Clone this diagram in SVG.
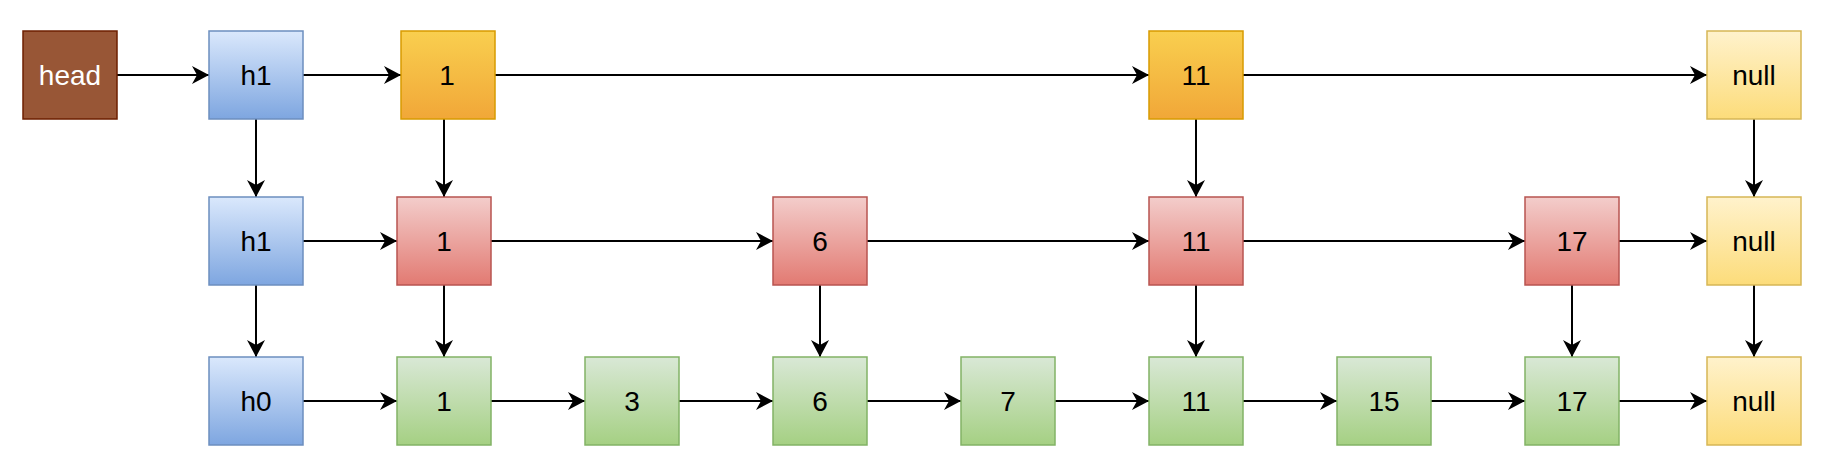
<svg xmlns="http://www.w3.org/2000/svg" width="1840" height="472" viewBox="0 0 1840 472">
<style>
rect{stroke-width:1.5}
.t{font-family:"Liberation Sans",Arial,sans-serif;font-size:28px;text-anchor:middle;dominant-baseline:central;fill:#000}
.head rect{fill:#985636;stroke:#6d1f00}
.head text{fill:#fff}
.blue rect{fill:url(#gBlue);stroke:#6c8ebf}
.orange rect{fill:url(#gOrange);stroke:#d79b00}
.red rect{fill:url(#gRed);stroke:#b85450}
.green rect{fill:url(#gGreen);stroke:#82b366}
.yellow rect{fill:url(#gYellow);stroke:#d6b656}
#edges line{stroke:#000;stroke-width:2;marker-end:url(#arr)}
</style>
<defs>
<linearGradient id="gBlue" x1="0" y1="0" x2="0" y2="1"><stop offset="0" stop-color="#dae8fc"/><stop offset="1" stop-color="#7ea6e0"/></linearGradient>
<linearGradient id="gOrange" x1="0" y1="0" x2="0" y2="1"><stop offset="0" stop-color="#f9cf4f"/><stop offset="1" stop-color="#f1a738"/></linearGradient>
<linearGradient id="gRed" x1="0" y1="0" x2="0" y2="1"><stop offset="0" stop-color="#f3cdcb"/><stop offset="1" stop-color="#e27a72"/></linearGradient>
<linearGradient id="gGreen" x1="0" y1="0" x2="0" y2="1"><stop offset="0" stop-color="#d9e8d6"/><stop offset="1" stop-color="#a5d083"/></linearGradient>
<linearGradient id="gYellow" x1="0" y1="0" x2="0" y2="1"><stop offset="0" stop-color="#fff2cc"/><stop offset="1" stop-color="#fcdc7a"/></linearGradient>
<marker id="arr" markerUnits="userSpaceOnUse" viewBox="0 0 17 18" refX="17" refY="9" markerWidth="17" markerHeight="18" orient="auto">
<path d="M17,9 L0,0 L5,9 L0,18 Z" fill="#000"/>
</marker>
</defs>

<g id="edges">
<line x1="117" y1="75" x2="209" y2="75"/>
<line x1="303" y1="75" x2="401" y2="75"/>
<line x1="495" y1="75" x2="1149" y2="75"/>
<line x1="1243" y1="75" x2="1707" y2="75"/>
<line x1="256" y1="119" x2="256" y2="197"/>
<line x1="444" y1="119" x2="444" y2="197"/>
<line x1="1196" y1="119" x2="1196" y2="197"/>
<line x1="1754" y1="119" x2="1754" y2="197"/>
<line x1="303" y1="241" x2="397" y2="241"/>
<line x1="491" y1="241" x2="773" y2="241"/>
<line x1="867" y1="241" x2="1149" y2="241"/>
<line x1="1243" y1="241" x2="1525" y2="241"/>
<line x1="1619" y1="241" x2="1707" y2="241"/>
<line x1="256" y1="285" x2="256" y2="357"/>
<line x1="444" y1="285" x2="444" y2="357"/>
<line x1="820" y1="285" x2="820" y2="357"/>
<line x1="1196" y1="285" x2="1196" y2="357"/>
<line x1="1572" y1="285" x2="1572" y2="357"/>
<line x1="1754" y1="285" x2="1754" y2="357"/>
<line x1="303" y1="401" x2="397" y2="401"/>
<line x1="491" y1="401" x2="585" y2="401"/>
<line x1="679" y1="401" x2="773" y2="401"/>
<line x1="867" y1="401" x2="961" y2="401"/>
<line x1="1055" y1="401" x2="1149" y2="401"/>
<line x1="1243" y1="401" x2="1337" y2="401"/>
<line x1="1431" y1="401" x2="1525" y2="401"/>
<line x1="1619" y1="401" x2="1707" y2="401"/>
</g>

<g id="n-head" class="head"><rect x="23" y="31" width="94" height="88"/><text class="t" x="70" y="75">head</text></g>
<g id="n-h1-top" class="blue"><rect x="209" y="31" width="94" height="88"/><text class="t" x="256" y="75">h1</text></g>
<g id="n-l2-1" class="orange"><rect x="401" y="31" width="94" height="88"/><text class="t" x="447" y="75">1</text></g>
<g id="n-l2-11" class="orange"><rect x="1149" y="31" width="94" height="88"/><text class="t" x="1196" y="75">11</text></g>
<g id="n-l2-null" class="yellow"><rect x="1707" y="31" width="94" height="88"/><text class="t" x="1754" y="75">null</text></g>

<g id="n-h1" class="blue"><rect x="209" y="197" width="94" height="88"/><text class="t" x="256" y="241">h1</text></g>
<g id="n-l1-1" class="red"><rect x="397" y="197" width="94" height="88"/><text class="t" x="444" y="241">1</text></g>
<g id="n-l1-6" class="red"><rect x="773" y="197" width="94" height="88"/><text class="t" x="820" y="241">6</text></g>
<g id="n-l1-11" class="red"><rect x="1149" y="197" width="94" height="88"/><text class="t" x="1196" y="241">11</text></g>
<g id="n-l1-17" class="red"><rect x="1525" y="197" width="94" height="88"/><text class="t" x="1572" y="241">17</text></g>
<g id="n-l1-null" class="yellow"><rect x="1707" y="197" width="94" height="88"/><text class="t" x="1754" y="241">null</text></g>

<g id="n-h0" class="blue"><rect x="209" y="357" width="94" height="88"/><text class="t" x="256" y="401">h0</text></g>
<g id="n-l0-1" class="green"><rect x="397" y="357" width="94" height="88"/><text class="t" x="444" y="401">1</text></g>
<g id="n-l0-3" class="green"><rect x="585" y="357" width="94" height="88"/><text class="t" x="632" y="401">3</text></g>
<g id="n-l0-6" class="green"><rect x="773" y="357" width="94" height="88"/><text class="t" x="820" y="401">6</text></g>
<g id="n-l0-7" class="green"><rect x="961" y="357" width="94" height="88"/><text class="t" x="1008" y="401">7</text></g>
<g id="n-l0-11" class="green"><rect x="1149" y="357" width="94" height="88"/><text class="t" x="1196" y="401">11</text></g>
<g id="n-l0-15" class="green"><rect x="1337" y="357" width="94" height="88"/><text class="t" x="1384" y="401">15</text></g>
<g id="n-l0-17" class="green"><rect x="1525" y="357" width="94" height="88"/><text class="t" x="1572" y="401">17</text></g>
<g id="n-l0-null" class="yellow"><rect x="1707" y="357" width="94" height="88"/><text class="t" x="1754" y="401">null</text></g>
</svg>
